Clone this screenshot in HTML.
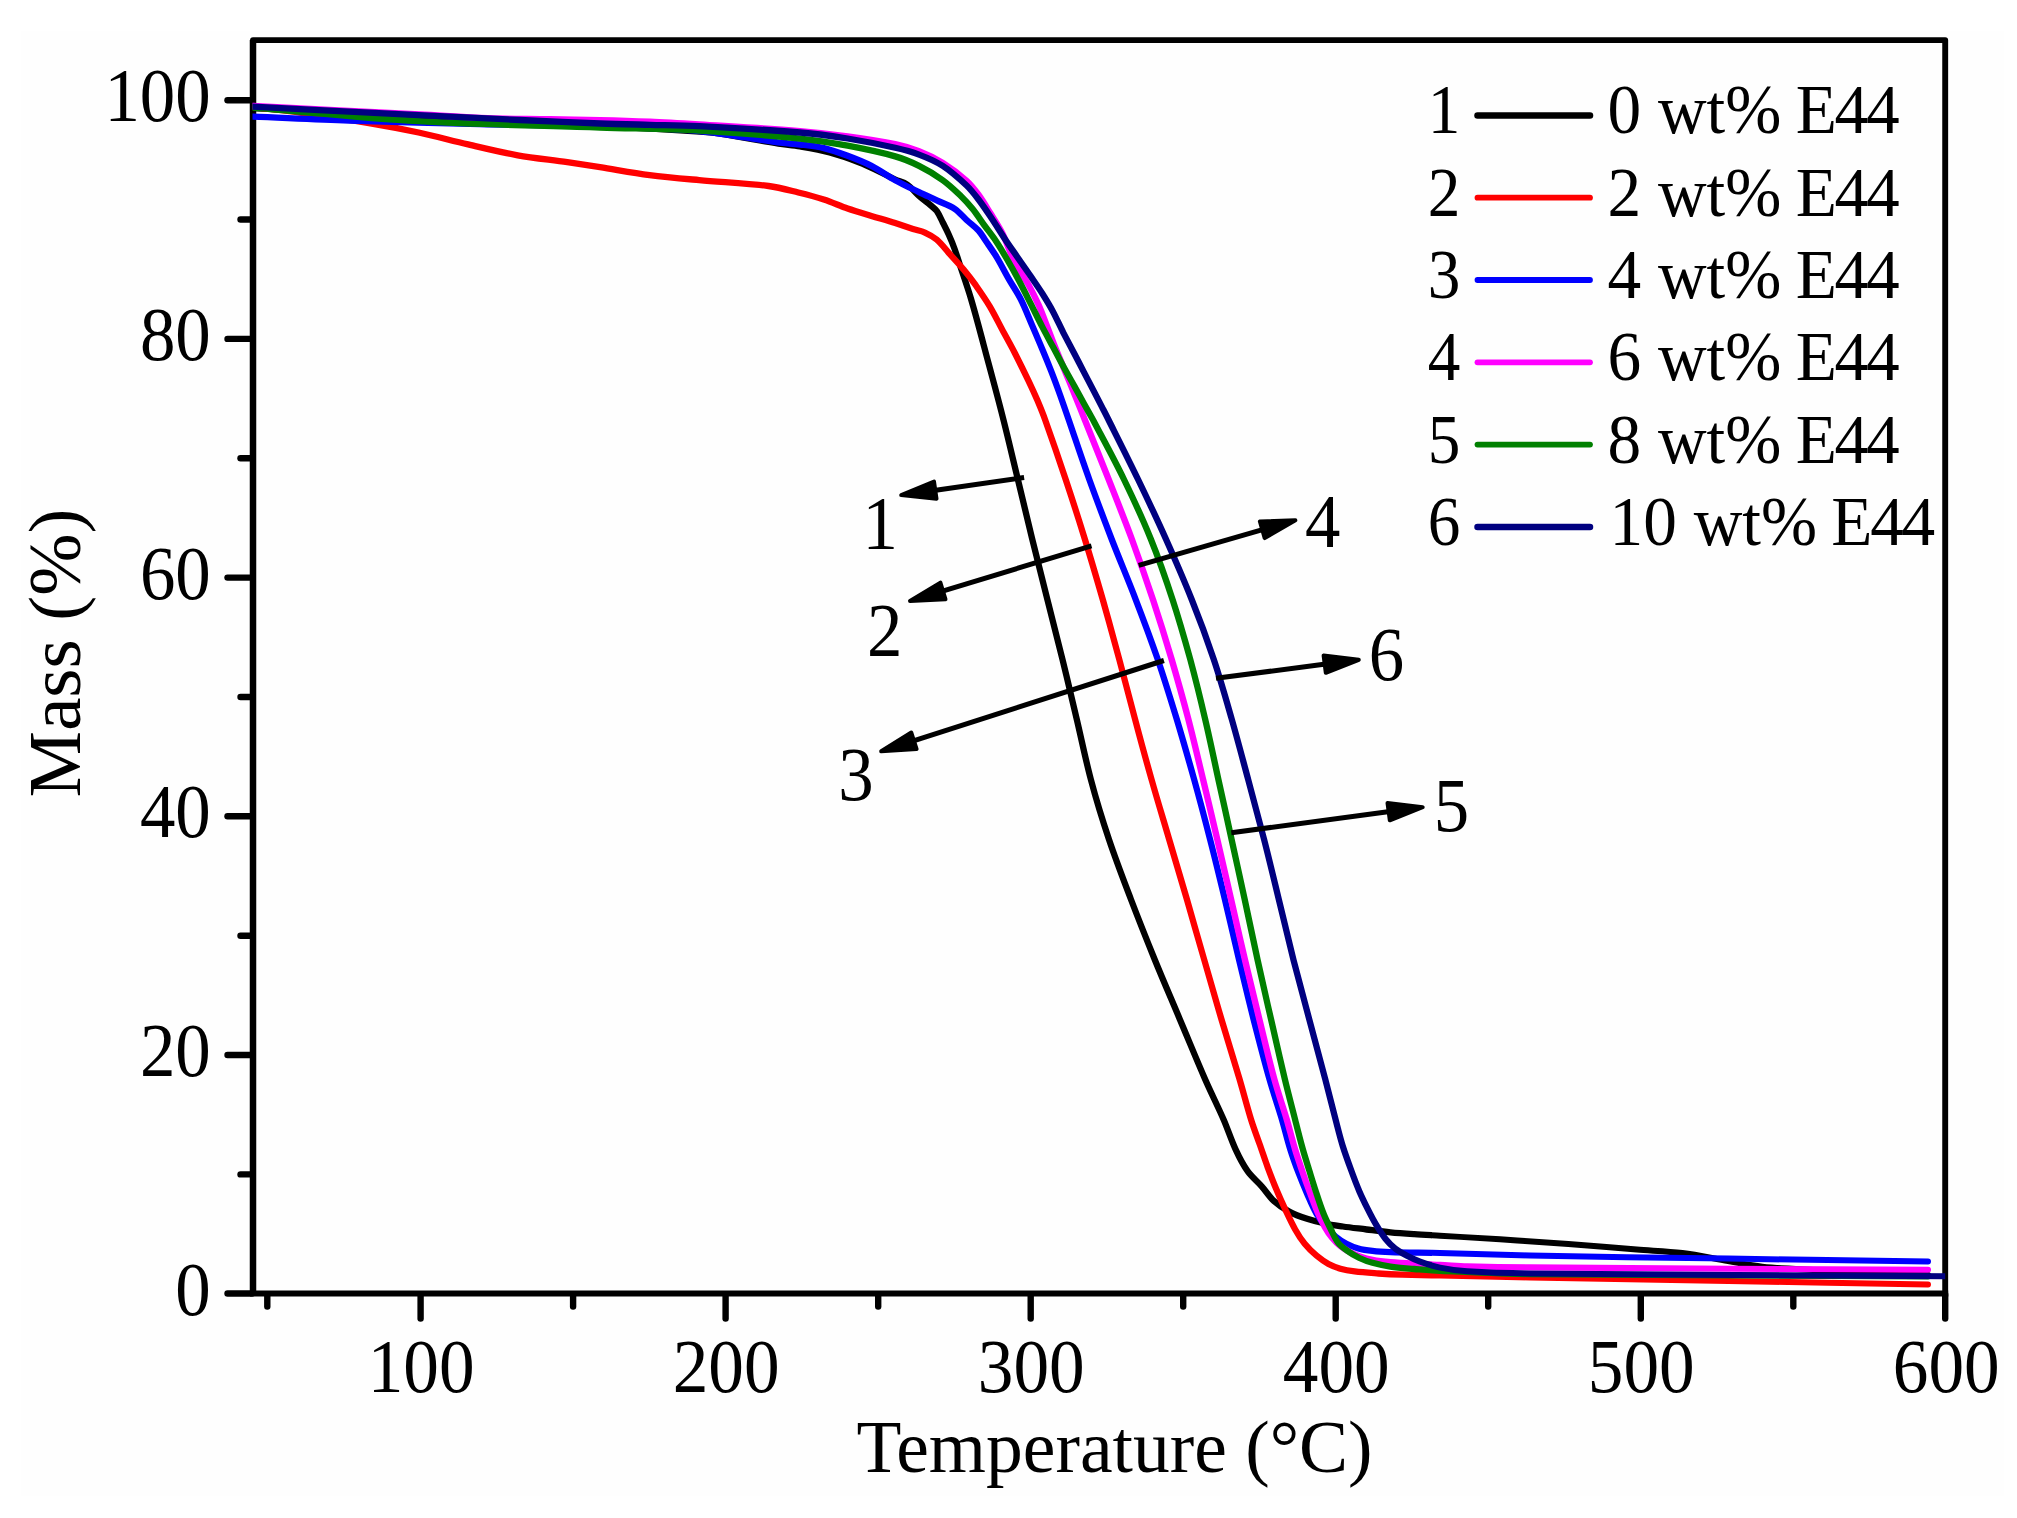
<!DOCTYPE html>
<html lang="en"><head><meta charset="utf-8"><title>TGA curves</title>
<style>html,body{margin:0;padding:0;background:#fff}body{width:2017px;height:1518px;overflow:hidden}svg{display:block;filter:blur(0.7px)}</style>
</head><body>
<svg width="2017" height="1518" viewBox="0 0 2017 1518">
<rect width="2017" height="1518" fill="#ffffff"/>
<rect x="21" y="31" width="1983" height="1465" fill="#fefefe"/>
<defs><clipPath id="pc"><rect x="252.5" y="40.1" width="1692.7" height="1253.4"/></clipPath></defs>
<g stroke="#000" stroke-width="6.4" fill="none" stroke-linecap="round">
<path d="M253.0,1293.5V40.1H1945.2V1296.5" stroke-width="5.9" stroke-linecap="butt" stroke-linejoin="round"/>
<path d="M253.0,1293.5V40.1" stroke-width="6.5" stroke-linecap="butt"/>
<path d="M250.0,1293.5H1948.15" stroke-width="5.9" stroke-linecap="butt"/>
<path d="M240.5,1174.4H252.0"/>
<path d="M227.5,1055.0H252.0"/>
<path d="M240.5,935.7H252.0"/>
<path d="M227.5,816.3H252.0"/>
<path d="M240.5,697.0H252.0"/>
<path d="M227.5,577.6H252.0"/>
<path d="M240.5,458.2H252.0"/>
<path d="M227.5,338.9H252.0"/>
<path d="M240.5,219.5H252.0"/>
<path d="M227.5,100.2H252.0"/>
<path d="M227.5,1293.5H252.0"/>
<path d="M267.3,1294.5V1306.5"/>
<path d="M420.6,1294.5V1318.5"/>
<path d="M573.1,1294.5V1306.5"/>
<path d="M725.6,1294.5V1318.5"/>
<path d="M878.2,1294.5V1306.5"/>
<path d="M1030.7,1294.5V1318.5"/>
<path d="M1183.2,1294.5V1306.5"/>
<path d="M1335.7,1294.5V1318.5"/>
<path d="M1488.2,1294.5V1306.5"/>
<path d="M1640.8,1294.5V1318.5"/>
<path d="M1793.3,1294.5V1306.5"/>
<path d="M1945.2,1294.5V1318.5"/>
</g>
<defs><clipPath id="pcA"><rect x="252.5" y="40.1" width="1179.5" height="1253.4"/></clipPath><clipPath id="pcB"><rect x="1432" y="40.1" width="513.2" height="1253.4"/></clipPath></defs>
<g fill="none" stroke-linecap="round" stroke-linejoin="round" clip-path="url(#pcA)">
<path d="M253.0,108.0C308.7,111.0 364.3,114.1 420.0,117.0C480.0,120.1 540.0,122.9 600.0,126.0C633.3,127.7 666.7,129.4 700.0,131.5C706.4,131.9 712.7,132.5 719.0,133.5C738.9,136.6 758.6,140.4 778.5,143.6C785.6,144.7 792.9,145.3 800.0,146.5C809.9,148.2 820.0,149.9 829.7,152.5C839.8,155.2 849.7,158.7 859.5,162.5C866.5,165.2 873.2,168.8 880.0,172.0C885.1,174.4 890.1,177.1 895.2,179.5C899.1,181.3 903.6,182.1 907.1,184.5C911.6,187.6 914.9,192.4 919.0,196.0C922.8,199.4 927.0,202.2 930.9,205.5C933.0,207.3 935.3,208.9 936.8,211.1C939.2,214.6 940.9,218.7 942.8,222.5C944.8,226.5 946.9,230.4 948.7,234.5C950.9,239.3 952.9,244.2 954.7,249.2C956.8,255.1 958.7,261.1 960.6,267.0C964.2,277.8 968.0,288.6 971.2,299.5C977.0,319.2 982.1,339.1 987.4,359.0C992.9,379.3 998.4,399.6 1003.5,420.0C1008.5,439.8 1013.1,459.7 1017.9,479.5C1022.7,499.3 1027.4,519.2 1032.2,539.0C1037.2,559.4 1042.4,579.7 1047.5,600.0C1052.5,619.8 1057.6,639.6 1062.5,659.5C1067.4,679.3 1072.0,699.2 1076.7,719.0C1081.5,739.3 1085.6,759.8 1091.0,780.0C1096.3,800.0 1102.4,819.9 1109.0,839.5C1115.7,859.5 1123.3,879.3 1130.8,899.0C1138.6,919.4 1146.7,939.8 1154.9,960.0C1163.0,979.9 1171.6,999.7 1179.9,1019.5C1188.3,1039.3 1196.4,1059.3 1205.0,1079.0C1211.0,1092.8 1217.8,1106.2 1223.8,1120.0C1228.0,1129.8 1231.2,1140.0 1235.7,1149.7C1239.1,1157.1 1242.9,1164.6 1247.6,1171.2C1251.6,1176.9 1257.3,1181.3 1261.9,1186.6C1266.0,1191.2 1269.3,1196.7 1273.8,1200.9C1278.4,1205.1 1283.7,1208.7 1289.2,1211.6C1294.8,1214.6 1301.0,1216.8 1307.1,1218.8C1312.9,1220.7 1318.9,1222.2 1324.9,1223.5C1330.8,1224.8 1336.8,1225.6 1342.8,1226.5C1350.7,1227.6 1358.7,1228.5 1366.6,1229.5C1374.5,1230.5 1382.4,1231.6 1390.4,1232.4C1398.3,1233.2 1406.3,1233.7 1414.2,1234.2C1422.8,1234.8 1431.4,1235.2 1440.0,1235.7C1460.0,1236.9 1480.0,1238.0 1500.0,1239.3C1522.8,1240.8 1545.6,1242.2 1568.4,1243.9C1591.2,1245.6 1614.0,1247.8 1636.8,1249.6C1652.0,1250.8 1667.3,1251.1 1682.4,1253.0C1697.7,1254.9 1712.9,1258.4 1728.1,1261.0C1739.5,1263.0 1750.8,1265.6 1762.3,1266.7C1781.2,1268.6 1800.3,1269.1 1819.3,1270.1C1855.5,1271.9 1891.8,1273.4 1928.0,1275.0" stroke="#000000" stroke-width="6.3"/>
<path d="M253.0,107.0C268.5,108.9 284.1,110.4 299.6,112.6C322.8,115.8 345.9,119.2 369.0,123.1C385.6,125.9 402.2,129.0 418.6,132.5C435.2,136.1 451.6,140.6 468.1,144.4C484.6,148.2 501.1,152.3 517.7,155.3C534.1,158.2 550.8,159.8 567.3,162.2C578.2,163.8 589.1,165.5 600.0,167.2C616.5,169.8 633.0,172.9 649.6,175.1C666.1,177.2 682.7,178.6 699.2,180.1C722.3,182.2 745.6,183.1 768.6,186.0C778.6,187.3 788.5,190.1 798.3,192.5C806.9,194.6 815.4,196.8 823.8,199.5C831.9,202.1 839.6,205.7 847.6,208.5C855.5,211.2 863.5,213.5 871.4,215.9C879.3,218.3 887.3,220.5 895.2,223.0C901.2,224.9 907.0,227.1 913.0,229.0C916.9,230.3 921.1,230.9 924.9,232.6C929.1,234.5 933.3,236.7 936.8,239.7C941.2,243.5 944.8,248.4 948.7,252.8C953.8,258.4 959.0,263.9 963.8,269.7C968.0,274.7 971.9,279.9 975.7,285.2C980.6,292.2 985.5,299.2 989.9,306.6C994.9,315.1 999.2,324.1 1003.9,332.8C1007.6,339.5 1011.3,346.2 1014.8,353.0C1019.4,362.1 1023.9,371.2 1028.3,380.4C1031.5,387.1 1034.6,393.8 1037.5,400.6C1040.2,407.0 1042.9,413.5 1045.2,420.0C1052.3,439.8 1059.1,459.6 1065.7,479.5C1072.3,499.3 1078.7,519.1 1084.8,539.0C1091.1,559.3 1097.0,579.6 1102.9,600.0C1108.5,619.8 1113.9,639.6 1119.3,659.5C1124.6,679.3 1129.6,699.2 1135.0,719.0C1140.4,739.4 1145.9,759.7 1151.7,780.0C1157.3,799.9 1163.4,819.7 1169.2,839.5C1175.1,859.3 1181.0,879.1 1186.8,899.0C1192.7,919.3 1198.4,939.7 1204.3,960.0C1210.0,979.8 1215.6,999.7 1221.5,1019.5C1227.4,1039.4 1233.6,1059.1 1239.5,1079.0C1243.5,1092.6 1247.0,1106.4 1251.2,1120.0C1253.7,1128.0 1256.7,1135.9 1259.5,1143.8C1262.3,1151.7 1264.9,1159.7 1267.8,1167.6C1270.5,1174.8 1273.2,1181.9 1276.2,1189.0C1279.2,1196.2 1282.4,1203.3 1285.7,1210.4C1288.7,1216.8 1291.7,1223.3 1295.2,1229.5C1298.0,1234.5 1301.1,1239.4 1304.7,1243.8C1308.2,1248.1 1312.3,1252.1 1316.6,1255.7C1320.3,1258.8 1324.3,1261.7 1328.5,1264.0C1332.2,1266.0 1336.3,1267.5 1340.4,1268.7C1345.0,1270.0 1349.9,1270.8 1354.7,1271.4C1362.6,1272.4 1370.6,1272.9 1378.5,1273.5C1386.4,1274.0 1394.4,1274.4 1402.3,1274.7C1414.9,1275.1 1427.4,1275.3 1440.0,1275.6C1470.0,1276.2 1500.0,1276.8 1530.0,1277.4C1596.0,1278.6 1662.1,1279.7 1728.1,1280.9C1794.7,1282.1 1861.4,1283.3 1928.0,1284.5" stroke="#ff0000" stroke-width="6.3"/>
<path d="M253.0,116.6C285.0,117.9 317.0,119.6 349.0,120.6C392.7,122.0 436.3,123.0 480.0,124.0C520.0,124.9 560.0,125.2 600.0,126.5C633.1,127.6 666.3,128.1 699.2,131.0C725.6,133.4 751.7,138.9 778.0,142.4C785.3,143.4 792.7,143.6 800.0,144.5C808.0,145.5 816.0,146.3 823.8,148.1C831.9,150.0 839.8,152.9 847.6,155.8C855.7,158.8 863.7,162.0 871.4,165.9C879.6,170.1 887.1,175.7 895.2,180.2C903.0,184.5 911.0,188.2 919.0,192.1C924.9,195.0 930.9,197.6 936.8,200.4C942.8,203.2 949.3,205.2 954.7,208.8C959.2,211.8 962.6,216.3 966.6,220.0C970.5,223.6 974.9,226.7 978.5,230.5C981.1,233.3 983.0,236.8 985.2,240.0C989.2,245.9 993.4,251.7 997.1,257.8C1001.3,264.8 1004.9,272.2 1009.0,279.3C1012.9,286.1 1017.4,292.5 1020.9,299.5C1025.2,308.0 1028.5,317.0 1032.3,325.7C1035.7,333.6 1039.1,341.5 1042.4,349.5C1045.4,356.6 1048.3,363.7 1051.1,370.9C1054.2,378.8 1057.1,386.7 1060.0,394.7C1063.0,403.1 1065.9,411.6 1068.8,420.0C1075.6,439.8 1082.2,459.8 1089.3,479.5C1096.5,499.4 1104.0,519.2 1111.6,539.0C1119.5,559.4 1128.1,579.6 1135.9,600.0C1143.5,619.7 1150.9,639.5 1157.8,659.5C1164.5,679.2 1170.6,699.1 1176.7,719.0C1182.8,739.3 1188.6,759.6 1194.3,780.0C1199.8,799.8 1205.0,819.6 1210.1,839.5C1215.2,859.3 1220.0,879.1 1224.8,899.0C1229.7,919.3 1234.3,939.7 1239.1,960.0C1243.8,979.9 1248.6,999.7 1253.6,1019.5C1258.7,1039.4 1263.8,1059.3 1269.4,1079.0C1273.3,1092.8 1278.0,1106.3 1282.1,1120.0C1285.0,1129.9 1287.3,1139.9 1290.4,1149.7C1292.9,1157.7 1295.8,1165.6 1298.8,1173.5C1301.4,1180.3 1304.2,1187.1 1307.1,1193.8C1310.1,1200.6 1312.9,1207.6 1316.6,1214.0C1319.3,1218.7 1322.6,1223.0 1326.1,1227.1C1329.0,1230.5 1332.2,1233.8 1335.7,1236.6C1339.0,1239.3 1342.6,1241.8 1346.4,1243.8C1350.2,1245.8 1354.2,1247.4 1358.3,1248.5C1362.9,1249.8 1367.7,1250.4 1372.5,1250.9C1378.4,1251.6 1384.4,1251.9 1390.4,1252.1C1406.9,1252.6 1423.5,1252.6 1440.0,1253.0C1470.0,1253.8 1500.0,1255.0 1530.0,1255.6C1596.0,1256.9 1662.1,1257.6 1728.1,1258.6C1794.7,1259.6 1861.4,1260.5 1928.0,1261.4" stroke="#0000ff" stroke-width="6.3"/>
<path d="M253.0,106.0C308.7,108.8 364.3,111.6 420.0,114.5C442.7,115.7 465.3,117.5 488.0,118.3C508.7,119.1 529.3,118.9 550.0,119.3C566.7,119.6 583.3,119.8 600.0,120.2C616.7,120.6 633.3,121.1 650.0,121.8C666.4,122.5 682.8,123.5 699.2,124.5C732.8,126.6 766.4,128.4 800.0,131.1C815.9,132.4 831.8,134.2 847.6,136.4C863.5,138.6 879.5,140.9 895.2,144.2C903.3,145.9 911.3,148.3 919.0,151.3C927.2,154.5 935.3,158.4 942.8,163.0C951.2,168.2 959.2,174.3 966.6,180.8C971.1,184.8 974.9,189.8 978.5,194.7C982.8,200.6 986.5,207.0 990.4,213.3C994.5,219.9 998.9,226.3 1002.3,233.2C1006.7,241.9 1009.4,251.5 1013.8,260.2C1018.0,268.4 1023.6,275.9 1028.1,284.0C1032.0,291.0 1035.5,298.1 1038.8,305.4C1041.7,312.0 1044.2,318.9 1046.8,325.7C1049.3,332.0 1051.6,338.4 1054.1,344.7C1056.5,350.7 1059.0,356.6 1061.5,362.6C1064.3,369.3 1067.1,376.1 1069.9,382.8C1072.0,388.0 1074.1,393.1 1076.2,398.3C1079.1,405.5 1082.0,412.8 1084.9,420.0C1092.9,439.8 1100.9,459.6 1108.7,479.5C1116.5,499.3 1124.4,519.0 1131.8,539.0C1139.2,559.2 1146.3,579.6 1153.1,600.0C1159.6,619.7 1165.8,639.6 1171.7,659.5C1177.5,679.2 1183.1,699.1 1188.3,719.0C1193.6,739.3 1198.3,759.6 1203.2,780.0C1208.0,799.8 1212.7,819.7 1217.3,839.5C1221.9,859.3 1226.5,879.2 1231.0,899.0C1235.7,919.3 1240.2,939.7 1245.0,960.0C1249.7,979.9 1254.6,999.7 1259.4,1019.5C1264.3,1039.3 1268.9,1059.3 1274.3,1079.0C1278.1,1092.8 1282.8,1106.3 1286.9,1120.0C1289.8,1129.9 1292.2,1139.9 1295.2,1149.7C1297.4,1156.9 1299.9,1164.1 1302.3,1171.2C1304.6,1178.0 1307.0,1184.7 1309.5,1191.4C1312.2,1198.6 1314.8,1205.8 1317.8,1212.8C1319.9,1217.7 1322.3,1222.5 1324.9,1227.1C1327.0,1230.8 1329.4,1234.5 1332.1,1237.8C1334.6,1240.8 1337.4,1243.7 1340.4,1246.1C1343.3,1248.4 1346.6,1250.4 1349.9,1252.1C1353.3,1253.9 1356.9,1255.5 1360.6,1256.8C1364.5,1258.1 1368.5,1259.1 1372.5,1259.8C1378.4,1260.9 1384.4,1261.6 1390.4,1262.2C1398.3,1262.9 1406.3,1263.3 1414.2,1263.7C1422.8,1264.2 1431.4,1264.4 1440.0,1264.8C1449.0,1265.2 1458.1,1265.9 1467.1,1266.2C1488.1,1266.8 1509.0,1267.2 1530.0,1267.4C1662.7,1268.4 1795.3,1269.0 1928.0,1269.8" stroke="#ff00ff" stroke-width="6.4"/>
<path d="M253.0,107.5C308.2,112.1 363.3,118.0 418.6,121.2C479.0,124.7 539.5,125.5 600.0,127.5C633.1,128.6 666.2,128.7 699.2,130.5C732.8,132.4 766.5,135.2 800.0,138.6C816.0,140.2 831.8,142.8 847.6,145.7C863.6,148.7 879.6,152.0 895.2,156.4C903.4,158.7 911.4,162.1 919.0,165.9C927.3,170.0 935.3,174.8 942.8,180.2C949.2,184.8 954.9,190.3 960.6,195.7C964.8,199.8 968.8,204.2 972.5,208.8C976.8,214.1 980.4,219.9 984.4,225.4C988.2,230.6 992.3,235.6 995.9,241.0C999.7,246.7 1003.2,252.6 1006.6,258.5C1010.7,265.5 1014.7,272.6 1018.5,279.8C1022.6,287.5 1026.5,295.3 1030.4,303.1C1034.4,311.0 1038.2,319.0 1042.3,326.9C1045.8,333.7 1049.5,340.4 1053.1,347.1C1056.6,353.8 1060.2,360.6 1063.8,367.3C1067.3,373.7 1070.9,380.0 1074.5,386.4C1077.8,392.3 1081.0,398.3 1084.3,404.2C1087.2,409.5 1090.2,414.7 1093.1,420.0C1103.5,439.8 1114.3,459.4 1124.0,479.5C1133.5,499.1 1142.7,518.8 1150.8,539.0C1158.9,559.0 1166.0,579.5 1172.7,600.0C1179.1,619.6 1184.8,639.6 1190.3,659.5C1195.6,679.2 1200.5,699.1 1205.1,719.0C1209.9,739.3 1214.1,759.7 1218.5,780.0C1222.9,799.8 1227.3,819.7 1231.6,839.5C1236.0,859.3 1240.3,879.2 1244.6,899.0C1249.0,919.3 1253.2,939.7 1257.6,960.0C1262.0,979.9 1266.5,999.7 1271.1,1019.5C1275.6,1039.3 1280.1,1059.2 1284.8,1079.0C1288.1,1092.7 1291.7,1106.3 1295.2,1120.0C1297.5,1129.1 1299.8,1138.3 1302.3,1147.4C1304.5,1155.4 1307.1,1163.3 1309.5,1171.2C1311.8,1178.7 1314.1,1186.3 1316.6,1193.8C1318.8,1200.6 1321.0,1207.4 1323.7,1214.0C1325.8,1219.3 1328.4,1224.4 1330.9,1229.5C1333.1,1233.9 1335.0,1238.7 1338.0,1242.6C1340.5,1245.9 1344.1,1248.5 1347.5,1250.9C1351.2,1253.6 1355.2,1256.0 1359.4,1258.0C1363.6,1260.0 1368.0,1261.6 1372.5,1262.8C1378.4,1264.4 1384.4,1265.7 1390.4,1266.6C1398.3,1267.8 1406.3,1268.3 1414.2,1269.0C1422.8,1269.7 1431.4,1270.5 1440.0,1270.9C1470.0,1272.2 1500.0,1273.9 1530.0,1274.2C1662.7,1275.7 1795.3,1275.7 1928.0,1276.5" stroke="#008000" stroke-width="6.3"/>
<path d="M253.0,106.7C308.2,109.5 363.4,112.5 418.6,115.2C452.4,116.9 486.2,118.5 520.0,120.0C546.7,121.2 573.3,122.5 600.0,123.5C616.7,124.1 633.3,124.4 650.0,124.8C666.4,125.2 682.8,125.3 699.2,126.1C732.8,127.8 766.5,129.7 800.0,132.5C815.9,133.8 831.8,136.0 847.6,138.5C863.6,141.1 879.4,144.2 895.2,147.8C903.2,149.6 911.3,151.7 919.0,154.6C927.2,157.7 935.5,161.2 942.8,165.9C951.4,171.5 959.1,178.5 966.6,185.5C971.0,189.7 974.8,194.6 978.5,199.5C982.7,205.0 986.6,210.8 990.4,216.5C995.4,223.9 1000.0,231.6 1004.9,239.0C1008.9,245.1 1013.2,251.0 1017.3,257.0C1021.7,263.3 1026.1,269.5 1030.4,275.8C1034.4,281.7 1038.5,287.5 1042.3,293.5C1046.0,299.4 1049.6,305.3 1052.9,311.4C1056.6,318.4 1059.8,325.7 1063.4,332.8C1066.9,339.6 1070.5,346.3 1074.0,353.0C1077.3,359.4 1080.6,365.7 1083.9,372.1C1087.2,378.4 1090.5,384.8 1093.8,391.1C1096.5,396.3 1099.1,401.4 1101.8,406.6C1104.1,411.1 1106.4,415.5 1108.6,420.0C1118.5,439.8 1128.5,459.6 1138.1,479.5C1147.6,499.2 1157.0,519.0 1165.9,539.0C1174.9,559.2 1183.8,579.5 1191.9,600.0C1199.8,619.6 1207.1,639.5 1213.8,659.5C1220.4,679.1 1226.0,699.1 1231.7,719.0C1237.5,739.3 1242.8,759.7 1248.3,780.0C1253.6,799.8 1259.0,819.6 1264.1,839.5C1269.2,859.3 1273.9,879.2 1278.7,899.0C1283.7,919.3 1288.4,939.7 1293.5,960.0C1298.6,979.9 1304.0,999.7 1309.3,1019.5C1314.6,1039.3 1320.0,1059.1 1325.2,1079.0C1328.8,1092.6 1332.1,1106.4 1335.7,1120.0C1338.0,1128.8 1340.1,1137.6 1342.8,1146.2C1345.3,1154.2 1348.2,1162.1 1351.1,1170.0C1353.7,1177.2 1356.4,1184.4 1359.4,1191.4C1362.0,1197.4 1364.9,1203.3 1367.8,1209.2C1370.4,1214.4 1373.1,1219.7 1376.1,1224.7C1379.0,1229.6 1382.0,1234.5 1385.6,1239.0C1388.4,1242.5 1391.6,1245.8 1395.1,1248.5C1398.7,1251.3 1402.9,1253.6 1407.0,1255.7C1411.2,1257.9 1415.6,1260.0 1420.1,1261.6C1426.6,1263.9 1433.2,1266.2 1440.0,1267.6C1448.9,1269.4 1458.0,1270.7 1467.1,1271.3C1488.0,1272.6 1509.0,1273.2 1530.0,1273.4C1668.3,1274.8 1806.7,1275.3 1945.0,1276.3" stroke="#000080" stroke-width="6.3"/>
</g>
<g fill="none" stroke-linecap="round" stroke-linejoin="round" clip-path="url(#pcB)">
<path d="M253.0,108.0C308.7,111.0 364.3,114.1 420.0,117.0C480.0,120.1 540.0,122.9 600.0,126.0C633.3,127.7 666.7,129.4 700.0,131.5C706.4,131.9 712.7,132.5 719.0,133.5C738.9,136.6 758.6,140.4 778.5,143.6C785.6,144.7 792.9,145.3 800.0,146.5C809.9,148.2 820.0,149.9 829.7,152.5C839.8,155.2 849.7,158.7 859.5,162.5C866.5,165.2 873.2,168.8 880.0,172.0C885.1,174.4 890.1,177.1 895.2,179.5C899.1,181.3 903.6,182.1 907.1,184.5C911.6,187.6 914.9,192.4 919.0,196.0C922.8,199.4 927.0,202.2 930.9,205.5C933.0,207.3 935.3,208.9 936.8,211.1C939.2,214.6 940.9,218.7 942.8,222.5C944.8,226.5 946.9,230.4 948.7,234.5C950.9,239.3 952.9,244.2 954.7,249.2C956.8,255.1 958.7,261.1 960.6,267.0C964.2,277.8 968.0,288.6 971.2,299.5C977.0,319.2 982.1,339.1 987.4,359.0C992.9,379.3 998.4,399.6 1003.5,420.0C1008.5,439.8 1013.1,459.7 1017.9,479.5C1022.7,499.3 1027.4,519.2 1032.2,539.0C1037.2,559.4 1042.4,579.7 1047.5,600.0C1052.5,619.8 1057.6,639.6 1062.5,659.5C1067.4,679.3 1072.0,699.2 1076.7,719.0C1081.5,739.3 1085.6,759.8 1091.0,780.0C1096.3,800.0 1102.4,819.9 1109.0,839.5C1115.7,859.5 1123.3,879.3 1130.8,899.0C1138.6,919.4 1146.7,939.8 1154.9,960.0C1163.0,979.9 1171.6,999.7 1179.9,1019.5C1188.3,1039.3 1196.4,1059.3 1205.0,1079.0C1211.0,1092.8 1217.8,1106.2 1223.8,1120.0C1228.0,1129.8 1231.2,1140.0 1235.7,1149.7C1239.1,1157.1 1242.9,1164.6 1247.6,1171.2C1251.6,1176.9 1257.3,1181.3 1261.9,1186.6C1266.0,1191.2 1269.3,1196.7 1273.8,1200.9C1278.4,1205.1 1283.7,1208.7 1289.2,1211.6C1294.8,1214.6 1301.0,1216.8 1307.1,1218.8C1312.9,1220.7 1318.9,1222.2 1324.9,1223.5C1330.8,1224.8 1336.8,1225.6 1342.8,1226.5C1350.7,1227.6 1358.7,1228.5 1366.6,1229.5C1374.5,1230.5 1382.4,1231.6 1390.4,1232.4C1398.3,1233.2 1406.3,1233.7 1414.2,1234.2C1422.8,1234.8 1431.4,1235.2 1440.0,1235.7C1460.0,1236.9 1480.0,1238.0 1500.0,1239.3C1522.8,1240.8 1545.6,1242.2 1568.4,1243.9C1591.2,1245.6 1614.0,1247.8 1636.8,1249.6C1652.0,1250.8 1667.3,1251.1 1682.4,1253.0C1697.7,1254.9 1712.9,1258.4 1728.1,1261.0C1739.5,1263.0 1750.8,1265.6 1762.3,1266.7C1781.2,1268.6 1800.3,1269.1 1819.3,1270.1C1855.5,1271.9 1891.8,1273.4 1928.0,1275.0" stroke="#000000" stroke-width="6.0"/>
<path d="M253.0,107.0C268.5,108.9 284.1,110.4 299.6,112.6C322.8,115.8 345.9,119.2 369.0,123.1C385.6,125.9 402.2,129.0 418.6,132.5C435.2,136.1 451.6,140.6 468.1,144.4C484.6,148.2 501.1,152.3 517.7,155.3C534.1,158.2 550.8,159.8 567.3,162.2C578.2,163.8 589.1,165.5 600.0,167.2C616.5,169.8 633.0,172.9 649.6,175.1C666.1,177.2 682.7,178.6 699.2,180.1C722.3,182.2 745.6,183.1 768.6,186.0C778.6,187.3 788.5,190.1 798.3,192.5C806.9,194.6 815.4,196.8 823.8,199.5C831.9,202.1 839.6,205.7 847.6,208.5C855.5,211.2 863.5,213.5 871.4,215.9C879.3,218.3 887.3,220.5 895.2,223.0C901.2,224.9 907.0,227.1 913.0,229.0C916.9,230.3 921.1,230.9 924.9,232.6C929.1,234.5 933.3,236.7 936.8,239.7C941.2,243.5 944.8,248.4 948.7,252.8C953.8,258.4 959.0,263.9 963.8,269.7C968.0,274.7 971.9,279.9 975.7,285.2C980.6,292.2 985.5,299.2 989.9,306.6C994.9,315.1 999.2,324.1 1003.9,332.8C1007.6,339.5 1011.3,346.2 1014.8,353.0C1019.4,362.1 1023.9,371.2 1028.3,380.4C1031.5,387.1 1034.6,393.8 1037.5,400.6C1040.2,407.0 1042.9,413.5 1045.2,420.0C1052.3,439.8 1059.1,459.6 1065.7,479.5C1072.3,499.3 1078.7,519.1 1084.8,539.0C1091.1,559.3 1097.0,579.6 1102.9,600.0C1108.5,619.8 1113.9,639.6 1119.3,659.5C1124.6,679.3 1129.6,699.2 1135.0,719.0C1140.4,739.4 1145.9,759.7 1151.7,780.0C1157.3,799.9 1163.4,819.7 1169.2,839.5C1175.1,859.3 1181.0,879.1 1186.8,899.0C1192.7,919.3 1198.4,939.7 1204.3,960.0C1210.0,979.8 1215.6,999.7 1221.5,1019.5C1227.4,1039.4 1233.6,1059.1 1239.5,1079.0C1243.5,1092.6 1247.0,1106.4 1251.2,1120.0C1253.7,1128.0 1256.7,1135.9 1259.5,1143.8C1262.3,1151.7 1264.9,1159.7 1267.8,1167.6C1270.5,1174.8 1273.2,1181.9 1276.2,1189.0C1279.2,1196.2 1282.4,1203.3 1285.7,1210.4C1288.7,1216.8 1291.7,1223.3 1295.2,1229.5C1298.0,1234.5 1301.1,1239.4 1304.7,1243.8C1308.2,1248.1 1312.3,1252.1 1316.6,1255.7C1320.3,1258.8 1324.3,1261.7 1328.5,1264.0C1332.2,1266.0 1336.3,1267.5 1340.4,1268.7C1345.0,1270.0 1349.9,1270.8 1354.7,1271.4C1362.6,1272.4 1370.6,1272.9 1378.5,1273.5C1386.4,1274.0 1394.4,1274.4 1402.3,1274.7C1414.9,1275.1 1427.4,1275.3 1440.0,1275.6C1470.0,1276.2 1500.0,1276.8 1530.0,1277.4C1596.0,1278.6 1662.1,1279.7 1728.1,1280.9C1794.7,1282.1 1861.4,1283.3 1928.0,1284.5" stroke="#ff0000" stroke-width="6.0"/>
<path d="M253.0,116.6C285.0,117.9 317.0,119.6 349.0,120.6C392.7,122.0 436.3,123.0 480.0,124.0C520.0,124.9 560.0,125.2 600.0,126.5C633.1,127.6 666.3,128.1 699.2,131.0C725.6,133.4 751.7,138.9 778.0,142.4C785.3,143.4 792.7,143.6 800.0,144.5C808.0,145.5 816.0,146.3 823.8,148.1C831.9,150.0 839.8,152.9 847.6,155.8C855.7,158.8 863.7,162.0 871.4,165.9C879.6,170.1 887.1,175.7 895.2,180.2C903.0,184.5 911.0,188.2 919.0,192.1C924.9,195.0 930.9,197.6 936.8,200.4C942.8,203.2 949.3,205.2 954.7,208.8C959.2,211.8 962.6,216.3 966.6,220.0C970.5,223.6 974.9,226.7 978.5,230.5C981.1,233.3 983.0,236.8 985.2,240.0C989.2,245.9 993.4,251.7 997.1,257.8C1001.3,264.8 1004.9,272.2 1009.0,279.3C1012.9,286.1 1017.4,292.5 1020.9,299.5C1025.2,308.0 1028.5,317.0 1032.3,325.7C1035.7,333.6 1039.1,341.5 1042.4,349.5C1045.4,356.6 1048.3,363.7 1051.1,370.9C1054.2,378.8 1057.1,386.7 1060.0,394.7C1063.0,403.1 1065.9,411.6 1068.8,420.0C1075.6,439.8 1082.2,459.8 1089.3,479.5C1096.5,499.4 1104.0,519.2 1111.6,539.0C1119.5,559.4 1128.1,579.6 1135.9,600.0C1143.5,619.7 1150.9,639.5 1157.8,659.5C1164.5,679.2 1170.6,699.1 1176.7,719.0C1182.8,739.3 1188.6,759.6 1194.3,780.0C1199.8,799.8 1205.0,819.6 1210.1,839.5C1215.2,859.3 1220.0,879.1 1224.8,899.0C1229.7,919.3 1234.3,939.7 1239.1,960.0C1243.8,979.9 1248.6,999.7 1253.6,1019.5C1258.7,1039.4 1263.8,1059.3 1269.4,1079.0C1273.3,1092.8 1278.0,1106.3 1282.1,1120.0C1285.0,1129.9 1287.3,1139.9 1290.4,1149.7C1292.9,1157.7 1295.8,1165.6 1298.8,1173.5C1301.4,1180.3 1304.2,1187.1 1307.1,1193.8C1310.1,1200.6 1312.9,1207.6 1316.6,1214.0C1319.3,1218.7 1322.6,1223.0 1326.1,1227.1C1329.0,1230.5 1332.2,1233.8 1335.7,1236.6C1339.0,1239.3 1342.6,1241.8 1346.4,1243.8C1350.2,1245.8 1354.2,1247.4 1358.3,1248.5C1362.9,1249.8 1367.7,1250.4 1372.5,1250.9C1378.4,1251.6 1384.4,1251.9 1390.4,1252.1C1406.9,1252.6 1423.5,1252.6 1440.0,1253.0C1470.0,1253.8 1500.0,1255.0 1530.0,1255.6C1596.0,1256.9 1662.1,1257.6 1728.1,1258.6C1794.7,1259.6 1861.4,1260.5 1928.0,1261.4" stroke="#0000ff" stroke-width="6.0"/>
<path d="M253.0,106.0C308.7,108.8 364.3,111.6 420.0,114.5C442.7,115.7 465.3,117.5 488.0,118.3C508.7,119.1 529.3,118.9 550.0,119.3C566.7,119.6 583.3,119.8 600.0,120.2C616.7,120.6 633.3,121.1 650.0,121.8C666.4,122.5 682.8,123.5 699.2,124.5C732.8,126.6 766.4,128.4 800.0,131.1C815.9,132.4 831.8,134.2 847.6,136.4C863.5,138.6 879.5,140.9 895.2,144.2C903.3,145.9 911.3,148.3 919.0,151.3C927.2,154.5 935.3,158.4 942.8,163.0C951.2,168.2 959.2,174.3 966.6,180.8C971.1,184.8 974.9,189.8 978.5,194.7C982.8,200.6 986.5,207.0 990.4,213.3C994.5,219.9 998.9,226.3 1002.3,233.2C1006.7,241.9 1009.4,251.5 1013.8,260.2C1018.0,268.4 1023.6,275.9 1028.1,284.0C1032.0,291.0 1035.5,298.1 1038.8,305.4C1041.7,312.0 1044.2,318.9 1046.8,325.7C1049.3,332.0 1051.6,338.4 1054.1,344.7C1056.5,350.7 1059.0,356.6 1061.5,362.6C1064.3,369.3 1067.1,376.1 1069.9,382.8C1072.0,388.0 1074.1,393.1 1076.2,398.3C1079.1,405.5 1082.0,412.8 1084.9,420.0C1092.9,439.8 1100.9,459.6 1108.7,479.5C1116.5,499.3 1124.4,519.0 1131.8,539.0C1139.2,559.2 1146.3,579.6 1153.1,600.0C1159.6,619.7 1165.8,639.6 1171.7,659.5C1177.5,679.2 1183.1,699.1 1188.3,719.0C1193.6,739.3 1198.3,759.6 1203.2,780.0C1208.0,799.8 1212.7,819.7 1217.3,839.5C1221.9,859.3 1226.5,879.2 1231.0,899.0C1235.7,919.3 1240.2,939.7 1245.0,960.0C1249.7,979.9 1254.6,999.7 1259.4,1019.5C1264.3,1039.3 1268.9,1059.3 1274.3,1079.0C1278.1,1092.8 1282.8,1106.3 1286.9,1120.0C1289.8,1129.9 1292.2,1139.9 1295.2,1149.7C1297.4,1156.9 1299.9,1164.1 1302.3,1171.2C1304.6,1178.0 1307.0,1184.7 1309.5,1191.4C1312.2,1198.6 1314.8,1205.8 1317.8,1212.8C1319.9,1217.7 1322.3,1222.5 1324.9,1227.1C1327.0,1230.8 1329.4,1234.5 1332.1,1237.8C1334.6,1240.8 1337.4,1243.7 1340.4,1246.1C1343.3,1248.4 1346.6,1250.4 1349.9,1252.1C1353.3,1253.9 1356.9,1255.5 1360.6,1256.8C1364.5,1258.1 1368.5,1259.1 1372.5,1259.8C1378.4,1260.9 1384.4,1261.6 1390.4,1262.2C1398.3,1262.9 1406.3,1263.3 1414.2,1263.7C1422.8,1264.2 1431.4,1264.4 1440.0,1264.8C1449.0,1265.2 1458.1,1265.9 1467.1,1266.2C1488.1,1266.8 1509.0,1267.2 1530.0,1267.4C1662.7,1268.4 1795.3,1269.0 1928.0,1269.8" stroke="#ff00ff" stroke-width="6.1"/>
<path d="M253.0,107.5C308.2,112.1 363.3,118.0 418.6,121.2C479.0,124.7 539.5,125.5 600.0,127.5C633.1,128.6 666.2,128.7 699.2,130.5C732.8,132.4 766.5,135.2 800.0,138.6C816.0,140.2 831.8,142.8 847.6,145.7C863.6,148.7 879.6,152.0 895.2,156.4C903.4,158.7 911.4,162.1 919.0,165.9C927.3,170.0 935.3,174.8 942.8,180.2C949.2,184.8 954.9,190.3 960.6,195.7C964.8,199.8 968.8,204.2 972.5,208.8C976.8,214.1 980.4,219.9 984.4,225.4C988.2,230.6 992.3,235.6 995.9,241.0C999.7,246.7 1003.2,252.6 1006.6,258.5C1010.7,265.5 1014.7,272.6 1018.5,279.8C1022.6,287.5 1026.5,295.3 1030.4,303.1C1034.4,311.0 1038.2,319.0 1042.3,326.9C1045.8,333.7 1049.5,340.4 1053.1,347.1C1056.6,353.8 1060.2,360.6 1063.8,367.3C1067.3,373.7 1070.9,380.0 1074.5,386.4C1077.8,392.3 1081.0,398.3 1084.3,404.2C1087.2,409.5 1090.2,414.7 1093.1,420.0C1103.5,439.8 1114.3,459.4 1124.0,479.5C1133.5,499.1 1142.7,518.8 1150.8,539.0C1158.9,559.0 1166.0,579.5 1172.7,600.0C1179.1,619.6 1184.8,639.6 1190.3,659.5C1195.6,679.2 1200.5,699.1 1205.1,719.0C1209.9,739.3 1214.1,759.7 1218.5,780.0C1222.9,799.8 1227.3,819.7 1231.6,839.5C1236.0,859.3 1240.3,879.2 1244.6,899.0C1249.0,919.3 1253.2,939.7 1257.6,960.0C1262.0,979.9 1266.5,999.7 1271.1,1019.5C1275.6,1039.3 1280.1,1059.2 1284.8,1079.0C1288.1,1092.7 1291.7,1106.3 1295.2,1120.0C1297.5,1129.1 1299.8,1138.3 1302.3,1147.4C1304.5,1155.4 1307.1,1163.3 1309.5,1171.2C1311.8,1178.7 1314.1,1186.3 1316.6,1193.8C1318.8,1200.6 1321.0,1207.4 1323.7,1214.0C1325.8,1219.3 1328.4,1224.4 1330.9,1229.5C1333.1,1233.9 1335.0,1238.7 1338.0,1242.6C1340.5,1245.9 1344.1,1248.5 1347.5,1250.9C1351.2,1253.6 1355.2,1256.0 1359.4,1258.0C1363.6,1260.0 1368.0,1261.6 1372.5,1262.8C1378.4,1264.4 1384.4,1265.7 1390.4,1266.6C1398.3,1267.8 1406.3,1268.3 1414.2,1269.0C1422.8,1269.7 1431.4,1270.5 1440.0,1270.9C1470.0,1272.2 1500.0,1273.9 1530.0,1274.2C1662.7,1275.7 1795.3,1275.7 1928.0,1276.5" stroke="#008000" stroke-width="6.0"/>
<path d="M253.0,106.7C308.2,109.5 363.4,112.5 418.6,115.2C452.4,116.9 486.2,118.5 520.0,120.0C546.7,121.2 573.3,122.5 600.0,123.5C616.7,124.1 633.3,124.4 650.0,124.8C666.4,125.2 682.8,125.3 699.2,126.1C732.8,127.8 766.5,129.7 800.0,132.5C815.9,133.8 831.8,136.0 847.6,138.5C863.6,141.1 879.4,144.2 895.2,147.8C903.2,149.6 911.3,151.7 919.0,154.6C927.2,157.7 935.5,161.2 942.8,165.9C951.4,171.5 959.1,178.5 966.6,185.5C971.0,189.7 974.8,194.6 978.5,199.5C982.7,205.0 986.6,210.8 990.4,216.5C995.4,223.9 1000.0,231.6 1004.9,239.0C1008.9,245.1 1013.2,251.0 1017.3,257.0C1021.7,263.3 1026.1,269.5 1030.4,275.8C1034.4,281.7 1038.5,287.5 1042.3,293.5C1046.0,299.4 1049.6,305.3 1052.9,311.4C1056.6,318.4 1059.8,325.7 1063.4,332.8C1066.9,339.6 1070.5,346.3 1074.0,353.0C1077.3,359.4 1080.6,365.7 1083.9,372.1C1087.2,378.4 1090.5,384.8 1093.8,391.1C1096.5,396.3 1099.1,401.4 1101.8,406.6C1104.1,411.1 1106.4,415.5 1108.6,420.0C1118.5,439.8 1128.5,459.6 1138.1,479.5C1147.6,499.2 1157.0,519.0 1165.9,539.0C1174.9,559.2 1183.8,579.5 1191.9,600.0C1199.8,619.6 1207.1,639.5 1213.8,659.5C1220.4,679.1 1226.0,699.1 1231.7,719.0C1237.5,739.3 1242.8,759.7 1248.3,780.0C1253.6,799.8 1259.0,819.6 1264.1,839.5C1269.2,859.3 1273.9,879.2 1278.7,899.0C1283.7,919.3 1288.4,939.7 1293.5,960.0C1298.6,979.9 1304.0,999.7 1309.3,1019.5C1314.6,1039.3 1320.0,1059.1 1325.2,1079.0C1328.8,1092.6 1332.1,1106.4 1335.7,1120.0C1338.0,1128.8 1340.1,1137.6 1342.8,1146.2C1345.3,1154.2 1348.2,1162.1 1351.1,1170.0C1353.7,1177.2 1356.4,1184.4 1359.4,1191.4C1362.0,1197.4 1364.9,1203.3 1367.8,1209.2C1370.4,1214.4 1373.1,1219.7 1376.1,1224.7C1379.0,1229.6 1382.0,1234.5 1385.6,1239.0C1388.4,1242.5 1391.6,1245.8 1395.1,1248.5C1398.7,1251.3 1402.9,1253.6 1407.0,1255.7C1411.2,1257.9 1415.6,1260.0 1420.1,1261.6C1426.6,1263.9 1433.2,1266.2 1440.0,1267.6C1448.9,1269.4 1458.0,1270.7 1467.1,1271.3C1488.0,1272.6 1509.0,1273.2 1530.0,1273.4C1668.3,1274.8 1806.7,1275.3 1945.0,1276.3" stroke="#000080" stroke-width="6.0"/>
</g>
<g font-family="'Liberation Serif', 'Times New Roman', serif" fill="#000">
<text transform="translate(210.8,1314.6) scale(0.985,1.045)" font-size="72" text-anchor="end">0</text>
<text transform="translate(210.8,1075.9) scale(0.985,1.045)" font-size="72" text-anchor="end">20</text>
<text transform="translate(210.8,837.2) scale(0.985,1.045)" font-size="72" text-anchor="end">40</text>
<text transform="translate(210.8,598.5) scale(0.985,1.045)" font-size="72" text-anchor="end">60</text>
<text transform="translate(210.8,359.8) scale(0.985,1.045)" font-size="72" text-anchor="end">80</text>
<text transform="translate(210.8,121.1) scale(0.985,1.045)" font-size="72" text-anchor="end">100</text>
<text transform="translate(421.1,1391.6) scale(0.99,1.045)" font-size="72" text-anchor="middle">100</text>
<text transform="translate(726.1,1391.6) scale(0.99,1.045)" font-size="72" text-anchor="middle">200</text>
<text transform="translate(1031.2,1391.6) scale(0.99,1.045)" font-size="72" text-anchor="middle">300</text>
<text transform="translate(1336.2,1391.6) scale(0.99,1.045)" font-size="72" text-anchor="middle">400</text>
<text transform="translate(1641.3,1391.6) scale(0.99,1.045)" font-size="72" text-anchor="middle">500</text>
<text transform="translate(1946.3,1391.6) scale(0.99,1.045)" font-size="72" text-anchor="middle">600</text>
<text transform="translate(1114.5,1472.3) scale(1.0,1.0)" font-size="73.5" text-anchor="middle">Temperature (°C)</text>
<text transform="translate(80.4,653) rotate(-90)" font-size="74.8" text-anchor="middle">Mass (%)</text>
<text transform="translate(1444.0,133.3) scale(0.96,1.03)" font-size="68" text-anchor="middle">1</text>
<path d="M1477.5,115.4H1590" stroke="#000000" stroke-width="6.5" stroke-linecap="round" fill="none"/>
<text transform="translate(1607.5,133.3) scale(0.99,1.02)" font-size="68">0 wt% <tspan dx="-2.5" letter-spacing="-2.3">E44</tspan></text>
<text transform="translate(1444.0,215.6) scale(0.96,1.03)" font-size="68" text-anchor="middle">2</text>
<path d="M1477.5,197.7H1590" stroke="#ff0000" stroke-width="5.8" stroke-linecap="round" fill="none"/>
<text transform="translate(1607.5,215.6) scale(0.99,1.02)" font-size="68">2 wt% <tspan dx="-2.5" letter-spacing="-2.3">E44</tspan></text>
<text transform="translate(1444.0,297.9) scale(0.96,1.03)" font-size="68" text-anchor="middle">3</text>
<path d="M1477.5,280.0H1590" stroke="#0000ff" stroke-width="5.8" stroke-linecap="round" fill="none"/>
<text transform="translate(1607.5,297.9) scale(0.99,1.02)" font-size="68">4 wt% <tspan dx="-2.5" letter-spacing="-2.3">E44</tspan></text>
<text transform="translate(1444.0,380.2) scale(0.96,1.03)" font-size="68" text-anchor="middle">4</text>
<path d="M1477.5,362.3H1590" stroke="#ff00ff" stroke-width="5.8" stroke-linecap="round" fill="none"/>
<text transform="translate(1607.5,380.2) scale(0.99,1.02)" font-size="68">6 wt% <tspan dx="-2.5" letter-spacing="-2.3">E44</tspan></text>
<text transform="translate(1444.0,462.5) scale(0.96,1.03)" font-size="68" text-anchor="middle">5</text>
<path d="M1477.5,444.6H1590" stroke="#008000" stroke-width="5.8" stroke-linecap="round" fill="none"/>
<text transform="translate(1607.5,462.5) scale(0.99,1.02)" font-size="68">8 wt% <tspan dx="-2.5" letter-spacing="-2.3">E44</tspan></text>
<text transform="translate(1444.0,544.8) scale(0.96,1.03)" font-size="68" text-anchor="middle">6</text>
<path d="M1477.5,526.9H1590" stroke="#000080" stroke-width="6.5" stroke-linecap="round" fill="none"/>
<text transform="translate(1609.5,544.8) scale(0.99,1.02)" font-size="68">10 wt% <tspan dx="-2.5" letter-spacing="-2.3">E44</tspan></text>
<path d="M1024.1,477.5L932.3,490.7" stroke="#000" stroke-width="5" fill="none"/><path d="M901.2,495.1L934.0,481.6L936.5,498.8Z" fill="#000" stroke="#000" stroke-width="4" stroke-linejoin="round"/>
<path d="M1091.5,545.9L940.1,591.8" stroke="#000" stroke-width="5" fill="none"/><path d="M910.0,600.9L940.4,582.6L945.5,599.3Z" fill="#000" stroke="#000" stroke-width="4" stroke-linejoin="round"/>
<path d="M1163.9,660.5L911.1,741.7" stroke="#000" stroke-width="5" fill="none"/><path d="M881.2,751.3L911.3,732.5L916.6,749.1Z" fill="#000" stroke="#000" stroke-width="4" stroke-linejoin="round"/>
<path d="M1138.7,565.3L1265.2,528.9" stroke="#000" stroke-width="5" fill="none"/><path d="M1295.4,520.3L1264.7,538.1L1259.9,521.4Z" fill="#000" stroke="#000" stroke-width="4" stroke-linejoin="round"/>
<path d="M1231.3,832.7L1391.6,811.3" stroke="#000" stroke-width="5" fill="none"/><path d="M1422.7,807.2L1389.8,820.3L1387.5,803.1Z" fill="#000" stroke="#000" stroke-width="4" stroke-linejoin="round"/>
<path d="M1216.0,678.3L1327.7,663.8" stroke="#000" stroke-width="5" fill="none"/><path d="M1358.8,659.8L1325.8,672.8L1323.6,655.6Z" fill="#000" stroke="#000" stroke-width="4" stroke-linejoin="round"/>
<text transform="translate(880.3,548.5) scale(0.97,1.04)" font-size="73" text-anchor="middle">1</text>
<text transform="translate(884.7,656.0) scale(0.97,1.04)" font-size="73" text-anchor="middle">2</text>
<text transform="translate(856.0,800.0) scale(0.97,1.04)" font-size="73" text-anchor="middle">3</text>
<text transform="translate(1322.6,547.4) scale(0.97,1.04)" font-size="73" text-anchor="middle">4</text>
<text transform="translate(1451.4,831.0) scale(0.97,1.04)" font-size="73" text-anchor="middle">5</text>
<text transform="translate(1386.5,680.3) scale(0.97,1.04)" font-size="73" text-anchor="middle">6</text>
</g>
</svg>
</body></html>
